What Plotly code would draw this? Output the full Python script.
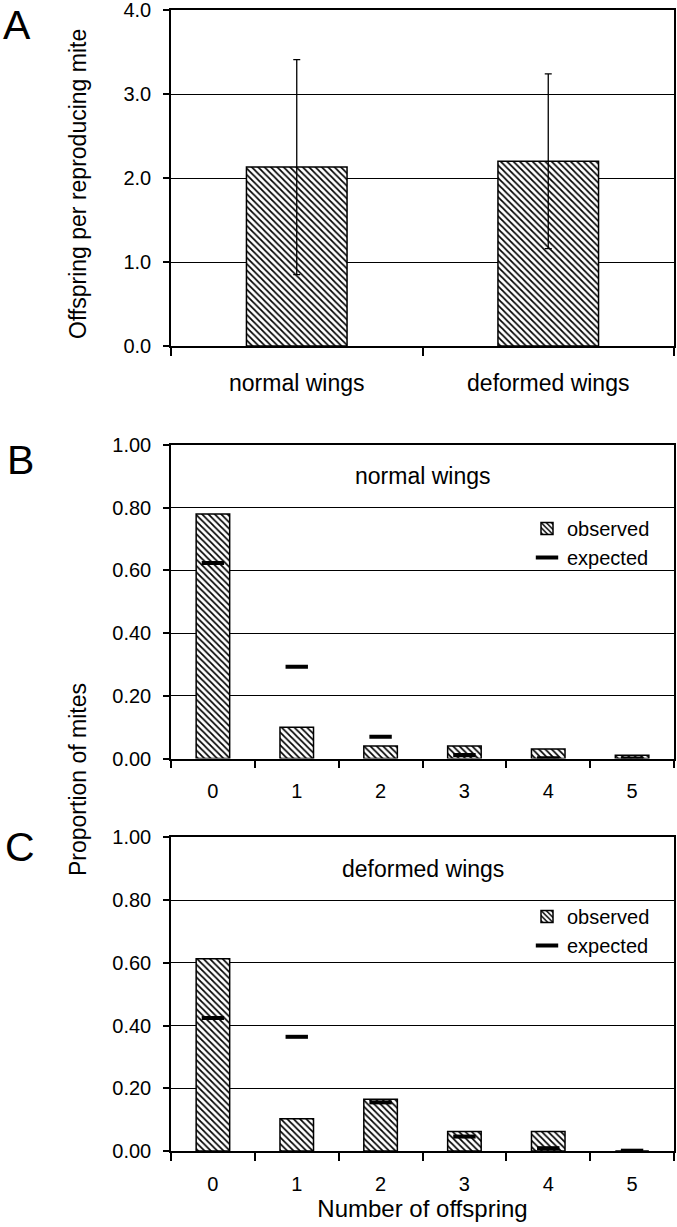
import plotly.graph_objects as go

# ---- data ----
groups = ["normal wings", "deformed wings"]
mean_offspring = [2.13, 2.20]
sd_offspring = [1.28, 1.04]

offspring_counts = ["0", "1", "2", "3", "4", "5"]
normal_observed = [0.78, 0.10, 0.04, 0.04, 0.03, 0.01]
normal_expected = [0.624, 0.293, 0.069, 0.011, 0.001, 0.000]
deformed_observed = [0.613, 0.103, 0.165, 0.062, 0.062, 0.0]
deformed_expected = [0.424, 0.364, 0.155, 0.046, 0.009, 0.001]

FONT = "Liberation Sans, Arial, sans-serif"
W, H = 677, 1227

def px_x(x):
    return x / W

def px_y(y):
    return 1 - y / H

pattern = dict(shape="\\", size=4.5, solidity=0.38, fgcolor="black", bgcolor="white")
bar_marker = dict(color="white", line=dict(color="black", width=1.5), pattern=pattern)

fig = go.Figure()

# Panel A
fig.add_trace(go.Bar(
    x=groups, y=mean_offspring, marker=bar_marker, showlegend=False,
    error_y=dict(type="data", array=sd_offspring, visible=True, color="black", thickness=1.3, width=3.5),
    xaxis="x", yaxis="y",
))

# Panel B
fig.add_trace(go.Bar(
    x=offspring_counts, y=normal_observed, marker=bar_marker, name="observed",
    xaxis="x2", yaxis="y2", legend="legend",
))
fig.add_trace(go.Scatter(
    x=offspring_counts, y=normal_expected, mode="markers", name="expected",
    marker=dict(symbol="line-ew", size=16, color="black", line=dict(color="black", width=4)),
    xaxis="x2", yaxis="y2", legend="legend",
))

# Panel C
fig.add_trace(go.Bar(
    x=offspring_counts, y=deformed_observed, marker=bar_marker, name="observed",
    xaxis="x3", yaxis="y3", legend="legend2",
))
fig.add_trace(go.Scatter(
    x=offspring_counts, y=deformed_expected, mode="markers", name="expected",
    marker=dict(symbol="line-ew", size=16, color="black", line=dict(color="black", width=4)),
    xaxis="x3", yaxis="y3", legend="legend2",
))

xdom = [px_x(171), px_x(674)]
domA = [px_y(346), px_y(10)]
domB = [px_y(758.5), px_y(445)]
domC = [px_y(1151), px_y(837.3)]

common_x = dict(
    type="category", showline=True, linecolor="black", linewidth=1.5, mirror=True,
    ticks="outside", ticklen=8, tickwidth=1.5, tickcolor="black", tickson="boundaries",
    showgrid=False, zeroline=False, domain=xdom, fixedrange=True, automargin=False,
    ticklabeloverflow="allow",
)
common_y = dict(
    showline=True, linecolor="black", linewidth=1.5, mirror=True,
    ticks="outside", ticklen=6, tickwidth=1.5, tickcolor="black",
    showgrid=True, gridcolor="black", gridwidth=1.4, zeroline=False, automargin=False,
    tickfont=dict(size=20, color="black", family=FONT), ticklabelstandoff=8,
    ticklabeloverflow="allow", fixedrange=True,
)

fig.update_layout(
    template="none",
    width=W, height=H,
    margin=dict(l=0, r=0, t=0, b=0, pad=0, autoexpand=False),
    paper_bgcolor="white", plot_bgcolor="white",
    font=dict(family=FONT, color="black", size=20),
    bargap=0.6,
    xaxis=dict(common_x, anchor="y", tickfont=dict(size=23, color="black", family=FONT), ticklabelstandoff=16),
    yaxis=dict(common_y, anchor="x", domain=domA, range=[0, 4], dtick=1, tickformat=".1f"),
    xaxis2=dict(common_x, anchor="y2", tickfont=dict(size=20, color="black", family=FONT), ticklabelstandoff=14),
    yaxis2=dict(common_y, anchor="x2", domain=domB, range=[0, 1], dtick=0.2, tickformat=".2f"),
    xaxis3=dict(common_x, anchor="y3", tickfont=dict(size=20, color="black", family=FONT), ticklabelstandoff=14,
                title=dict(text="Number of offspring", font=dict(size=24, color="black", family=FONT), standoff=6)),
    yaxis3=dict(common_y, anchor="x3", domain=domC, range=[0, 1], dtick=0.2, tickformat=".2f"),
    legend=dict(x=px_x(527), y=px_y(509), xanchor="left", yanchor="top", bgcolor="rgba(0,0,0,0)",
                font=dict(size=20, color="black", family=FONT), itemwidth=30, tracegroupgap=0),
    legend2=dict(x=px_x(527), y=px_y(897), xanchor="left", yanchor="top", bgcolor="rgba(0,0,0,0)",
                 font=dict(size=20, color="black", family=FONT), itemwidth=30, tracegroupgap=0),
    showlegend=True,
)

annotations = [
    dict(text="A", x=px_x(17), y=1.0, xref="paper", yref="paper", showarrow=False,
         font=dict(size=41, color="black", family=FONT), xanchor="center", yanchor="top"),
    dict(text="B", x=px_x(20), y=px_y(460), xref="paper", yref="paper", showarrow=False,
         font=dict(size=41, color="black", family=FONT), xanchor="center", yanchor="middle"),
    dict(text="C", x=px_x(20), y=px_y(847), xref="paper", yref="paper", showarrow=False,
         font=dict(size=41, color="black", family=FONT), xanchor="center", yanchor="middle"),
    dict(text="Offspring per reproducing mite", x=px_x(78), y=px_y(184), xref="paper", yref="paper",
         showarrow=False, textangle=-90, font=dict(size=23, color="black", family=FONT),
         xanchor="center", yanchor="middle"),
    dict(text="Proportion of mites", x=px_x(78), y=px_y(780), xref="paper", yref="paper",
         showarrow=False, textangle=-90, font=dict(size=23, color="black", family=FONT),
         xanchor="center", yanchor="middle"),
    dict(text="normal wings", x=0.5, y=0.9, xref="x2 domain", yref="y2", showarrow=False,
         font=dict(size=23, color="black", family=FONT), xanchor="center", yanchor="middle"),
    dict(text="deformed wings", x=0.5, y=0.9, xref="x3 domain", yref="y3", showarrow=False,
         font=dict(size=23, color="black", family=FONT), xanchor="center", yanchor="middle"),
]
fig.update_layout(annotations=annotations)

# remove the default page margin so the figure fills the window exactly
fig.write_html(
    "out.html",
    config={"displayModeBar": False},
    post_script="document.body.style.margin='0px';document.body.style.overflow='hidden';",
)
